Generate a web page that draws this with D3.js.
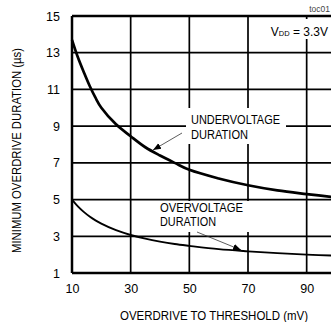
<!DOCTYPE html>
<html><head><meta charset="utf-8">
<script src="https://cdn.jsdelivr.net/npm/d3@7"></script>
<style>
body{margin:0;background:#fff;}
svg text{font-family:"Liberation Sans",Arial,sans-serif;fill:#000;}
</style></head>
<body><svg id="c" width="331" height="322"></svg>
<script>
const overdrive = [10, 12, 14, 16, 18, 20, 25, 30, 35, 40, 45, 50, 60, 70, 80, 90, 100];
const undervoltage = [13.7, 12.75, 11.95, 11.2, 10.55, 10.0, 9.1, 8.45, 7.85, 7.4, 7.0, 6.62, 6.15, 5.78, 5.5, 5.3, 5.12];
const overvoltage = [5.0, 4.63, 4.33, 4.08, 3.87, 3.69, 3.33, 3.07, 2.87, 2.71, 2.58, 2.48, 2.3, 2.18, 2.08, 2.0, 1.94];
const xTicks = [10, 30, 50, 70, 90];
const yTicks = [1, 3, 5, 7, 9, 11, 13, 15];

const svg = d3.select("#c");
const x = d3.scaleLinear().domain([10, 100]).range([72, 336]);
const y = d3.scaleLinear().domain([1, 15]).range([273, 16]);

// grid
const g = svg.append("g");
g.selectAll(".hg").data(yTicks).join("line")
  .attr("x1", x(10)).attr("x2", x(100)).attr("y1", d => y(d)).attr("y2", d => y(d))
  .attr("stroke", "#000").attr("stroke-width", d => (d === 1 || d === 15) ? 2.5 : 1.7);
g.selectAll(".vg").data(xTicks).join("line")
  .attr("x1", d => x(d)).attr("x2", d => x(d)).attr("y1", y(15)).attr("y2", y(1))
  .attr("stroke", "#000").attr("stroke-width", d => d === 10 ? 2.5 : 1.7);

// tick labels via axes
const ax = svg.append("g").attr("transform", `translate(0,${y(1)})`)
  .call(d3.axisBottom(x).tickValues(xTicks).tickSize(0).tickPadding(11));
ax.select(".domain").remove();
ax.selectAll("text").attr("font-size", 12.5).attr("font-family", "Liberation Sans");
const ay = svg.append("g").attr("transform", `translate(${x(10)},0)`)
  .call(d3.axisLeft(y).tickValues(yTicks).tickSize(0).tickPadding(12));
ay.select(".domain").remove();
ay.selectAll("text").attr("font-size", 12.5).attr("font-family", "Liberation Sans");

// white label boxes
svg.append("rect").attr("x", 186).attr("y", 108).attr("width", 100).attr("height", 36).attr("fill", "#fff");
svg.append("rect").attr("x", 157).attr("y", 201).attr("width", 93).attr("height", 31).attr("fill", "#fff");
svg.append("rect").attr("x", 271).attr("y", 19).attr("width", 60).attr("height", 20).attr("fill", "#fff");

// curves
const line = d3.line().x((d, i) => x(overdrive[i])).y(d => y(d)).curve(d3.curveCatmullRom);
svg.append("path").attr("d", line(undervoltage)).attr("fill", "none").attr("stroke", "#000").attr("stroke-width", 2.7);
svg.append("path").attr("d", line(overvoltage)).attr("fill", "none").attr("stroke", "#000").attr("stroke-width", 1.9);

// arrows
svg.append("defs").append("marker").attr("id", "ah").attr("viewBox", "0 0 10 10")
  .attr("refX", 10).attr("refY", 5).attr("markerWidth", 8).attr("markerHeight", 8)
  .attr("markerUnits", "userSpaceOnUse").attr("orient", "auto")
  .append("path").attr("d", "M0,1 L10,5 L0,9 Z").attr("fill", "#000");
svg.append("line").attr("x1", 182).attr("y1", 133).attr("x2", 153).attr("y2", 150)
  .attr("stroke", "#333").attr("stroke-width", 0.8).attr("marker-end", "url(#ah)");
svg.append("line").attr("x1", 197).attr("y1", 232).attr("x2", 241).attr("y2", 250)
  .attr("stroke", "#333").attr("stroke-width", 0.8).attr("marker-end", "url(#ah)");

// labels
const lab = (t, xx, yy, len) => svg.append("text").attr("x", xx).attr("y", yy).attr("font-size", 12.5)
  .attr("textLength", len).attr("lengthAdjust", "spacingAndGlyphs").text(t);
lab("UNDERVOLTAGE", 191, 124, 89);
lab("DURATION", 191, 139, 57);
lab("OVERVOLTAGE", 160, 212, 83);
lab("DURATION", 160, 226, 56);

const vdd = svg.append("text").attr("x", 328).attr("y", 36).attr("text-anchor", "end").attr("font-size", 12);
vdd.append("tspan").text("V");
vdd.append("tspan").attr("font-size", 7.5).text("DD");
vdd.append("tspan").text(" = 3.3V");

svg.append("text").attr("x", 330).attr("y", 12).attr("text-anchor", "end").attr("font-size", 8.5)
  .style("fill", "#444").text("toc01");

svg.append("text").attr("x", 120).attr("y", 320).attr("font-size", 12.5)
  .attr("textLength", 188).attr("lengthAdjust", "spacingAndGlyphs")
  .text("OVERDRIVE TO THRESHOLD (mV)");
svg.append("text").attr("transform", "translate(21,253) rotate(-90)").attr("font-size", 12.5)
  .attr("textLength", 205).attr("lengthAdjust", "spacingAndGlyphs")
  .text("MINIMUM OVERDRIVE DURATION (µs)");
</script></body></html>
